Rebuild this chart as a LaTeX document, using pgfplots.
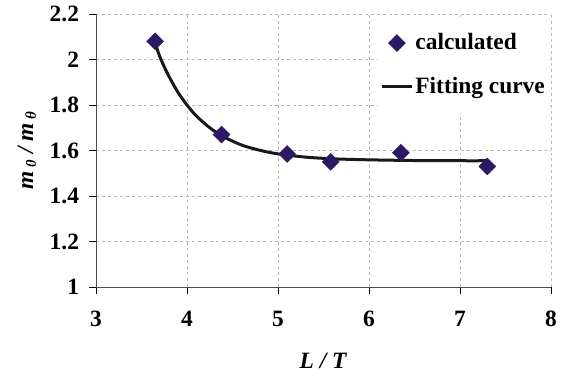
\documentclass[border=0pt]{standalone}
\usepackage{pgfplots}
\pgfplotsset{compat=1.18}
\usepackage{fontspec}
\setmainfont{Liberation Serif}
\definecolor{mk}{HTML}{2B1A63}
\newcommand{\bigf}{\fontsize{23.5}{27}\selectfont\bfseries}
\begin{document}
\bigf
\begin{tikzpicture}[x=1bp,y=1bp]
\path[use as bounding box] (0,0) rectangle (569,373);
\begin{axis}[
  scale only axis, width=455bp, height=273bp,
  at={(96bp,86bp)}, anchor=south west,
  xmin=3, xmax=8, ymin=1, ymax=2.2,
  xtick={3,4,5,6,7,8}, ytick={1,1.2,1.4,1.6,1.8,2,2.2},
  yticklabels={1,1.2,1.4,1.6,1.8,2,2.2},
  xticklabels={3,4,5,6,7,8},
  axis x line*=bottom, axis y line*=left,
  axis line style={black!70, line width=0.9pt, -},
  tick style={black, line width=0.7pt},
  tick align=outside, major tick length=7bp,
  grid=major,
  major grid style={gray!55, dashed, line width=0.7pt},
  /pgf/number format/assume math mode=true,
  ticklabel style={font=\bigf},
  xticklabel style={yshift=-9bp},
  yticklabel style={xshift=-2bp},
  xlabel={\textit{L / T}},
  ylabel={\textit{m\,\raisebox{-0.25ex}{\fontsize{15}{16}\selectfont 0} / m\,\raisebox{-0.25ex}{\fontsize{15}{16}\selectfont θ}}},
  label style={font=\bigf},
  xlabel style={yshift=-10bp},
  ylabel style={yshift=-2bp},
  legend style={at={(1,1)}, anchor=north east, xshift=-2bp, yshift=-3bp,
    draw=none, fill=white,
    font=\bigf, inner xsep=2bp, inner ysep=14bp,
    row sep=20bp, cells={anchor=west}},
  legend cell align=left,
  clip=false,
]
\addplot[only marks, mark=square*, mark size=6bp, mark options={rotate=45, fill=mk, draw=mk}, color=mk,
  legend image code/.code={\draw[mark repeat=2,mark phase=2] plot coordinates {(0bp,0bp) (15bp,0bp) (30bp,0bp)};}]
 coordinates {(3.65,2.08) (4.38,1.67) (5.1,1.585) (5.58,1.55) (6.35,1.59) (7.3,1.53)};
\addlegendentry{calculated}
\addplot[black!90, line width=3bp, smooth, tension=0.5,
  legend image code/.code={\draw[line width=3bp] (0bp,0bp) -- (30bp,0bp);}]
 coordinates {(3.66,2.06) (3.7,2.014) (3.75,1.968) (3.8,1.927) (3.9,1.856) (4.0,1.800) (4.1,1.753) (4.25,1.700) (4.4,1.661)
 (4.6,1.624) (4.8,1.601) (5.0,1.585) (5.3,1.571) (5.6,1.5635) (6.0,1.559) (6.5,1.556) (7.0,1.555) (7.3,1.555)};
\addlegendentry{Fitting curve}
\end{axis}
\end{tikzpicture}
\end{document}
